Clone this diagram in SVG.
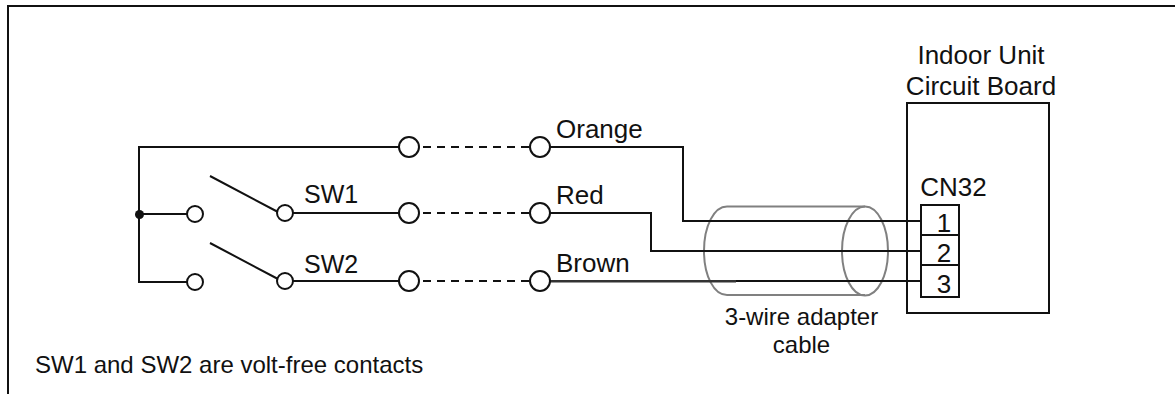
<svg xmlns="http://www.w3.org/2000/svg" width="1175" height="394" viewBox="0 0 1175 394">
<style>
text{font-family:"Liberation Sans",Arial,sans-serif;fill:#111;font-size:26px}
.s{font-size:24px}
.w{fill:none;stroke:#111;stroke-width:2}
.d{fill:none;stroke:#111;stroke-width:2;stroke-dasharray:8 6}
.c{fill:#fff;stroke:#111;stroke-width:2}
.g{fill:none;stroke:#808080;stroke-width:2}
.b{fill:#fff;stroke:#111;stroke-width:2}
</style>
<rect width="1175" height="394" fill="#fff"/>
<path id="frame" class="w" d="M1175 6H8V394"/>
<g id="board"><rect class="w" x="907" y="103" width="142" height="210"/>
<text x="981" y="64" text-anchor="middle">Indoor Unit</text>
<text x="981" y="95" text-anchor="middle">Circuit Board</text>
<text x="953.500" y="196" text-anchor="middle">CN32</text></g>
<g id="cable"><path class="g" d="M865 206.500H727C714 206.500 704 226 704 251C704 276 714 295 727 295H865"/>
<ellipse class="g" cx="865" cy="251" rx="23" ry="44.500"/>
<text class="s" x="801.500" y="325" text-anchor="middle">3-wire adapter</text>
<text class="s" x="801.500" y="353" text-anchor="middle">cable</text></g>
<g id="connectors">
<path class="w" d="M399 147H139V282H187M139 214H187M293 213H399M293 281H399M210 176L278 212M210 243L278 279"/>
<path class="d" d="M423 147H530M423 213H530M423 281H530"/>
<path class="w" d="M550 147H683V221H921M550 213H651V251H921M736 281H921"/>
<path d="M550 281.300H736" fill="none" stroke="#333" stroke-width="2.400"/>
</g>
<g id="cn32"><rect class="b" x="921" y="205" width="38" height="30"/><rect class="b" x="921" y="235" width="38" height="30"/><rect class="b" x="921" y="265" width="38" height="32"/>
<text x="944" y="232" text-anchor="middle">1</text>
<text x="944" y="262" text-anchor="middle">2</text>
<text x="944" y="293" text-anchor="middle">3</text></g>
<g id="junction"><circle cx="139.500" cy="214.500" r="4.500" fill="#111"/></g>
<g id="contacts">
<circle class="c" cx="195" cy="214" r="8"/><circle class="c" cx="285" cy="213" r="8"/>
<circle class="c" cx="195" cy="282" r="8"/><circle class="c" cx="285" cy="281" r="8"/>
<circle class="c" cx="409" cy="147" r="10"/><circle class="c" cx="409" cy="213" r="10"/><circle class="c" cx="409" cy="281" r="10"/>
<circle class="c" cx="540" cy="147" r="10"/><circle class="c" cx="540" cy="213" r="10"/><circle class="c" cx="540" cy="281" r="10"/>
</g>
<g id="labels">
<text x="304" y="203" style="font-size:25px">SW1</text><text x="304" y="273" style="font-size:25px">SW2</text>
<text x="556" y="138">Orange</text><text x="556" y="204">Red</text><text x="556" y="272">Brown</text>
<text class="s" x="35" y="373">SW1 and SW2 are volt-free contacts</text>
</g>
</svg>
